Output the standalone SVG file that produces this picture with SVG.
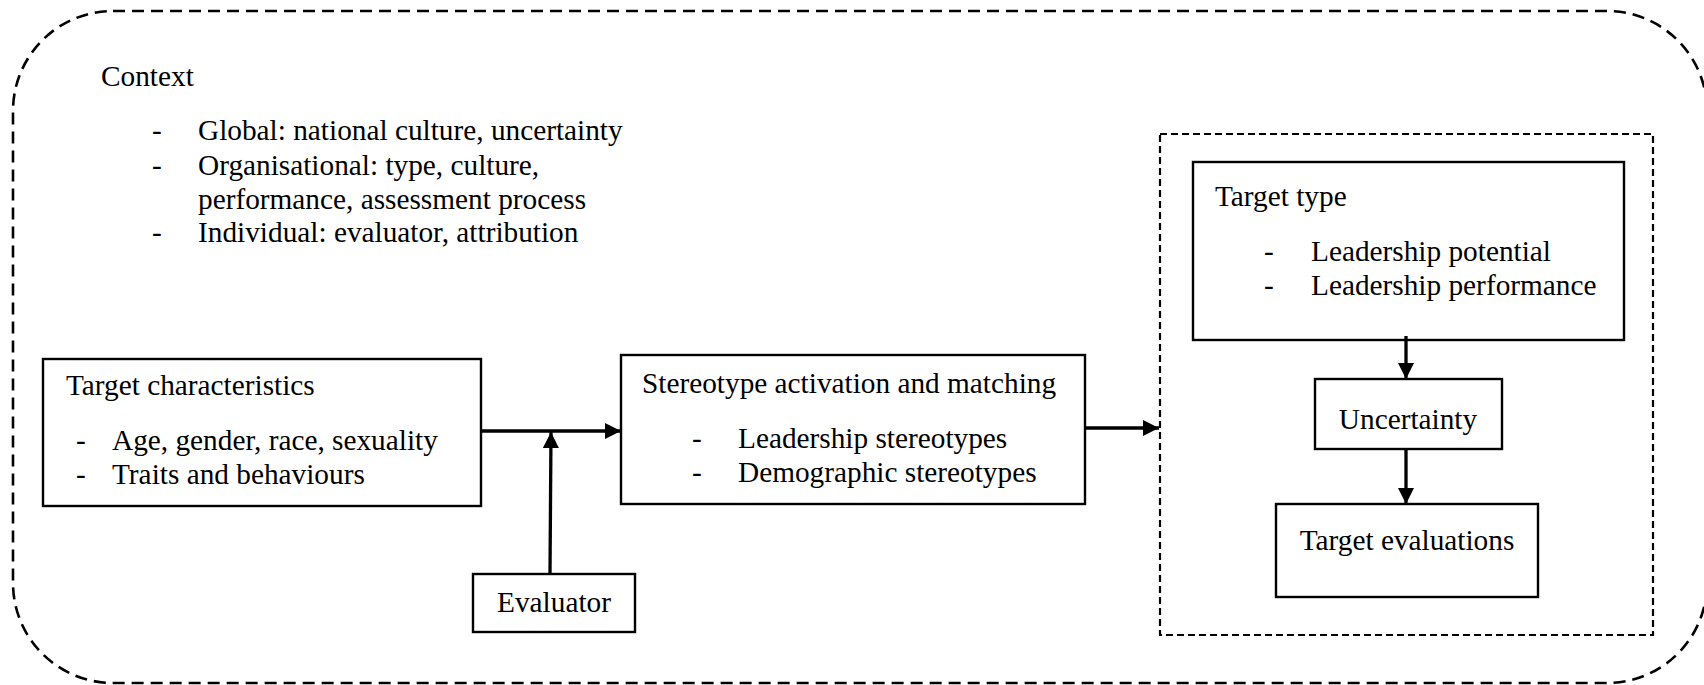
<svg xmlns="http://www.w3.org/2000/svg" width="1704" height="685" viewBox="0 0 1704 685" font-family="'Liberation Serif', 'Times New Roman', serif">
<style>
text{font-family:"Liberation Serif","Times New Roman",serif;font-size:29.3px;fill:#000}
.box{fill:#fff;stroke:#000;stroke-width:2.4}
.outer{fill:none;stroke:#000;stroke-width:2.6;stroke-dasharray:12 7}
.inner{fill:none;stroke:#000;stroke-width:2.2;stroke-dasharray:7 4}
.arr{stroke:#000;stroke-width:3.3;fill:none;marker-end:url(#ah)}
.mid{text-anchor:middle}
</style>
<defs>
<marker id="ah" markerUnits="userSpaceOnUse" markerWidth="18" markerHeight="18" viewBox="0 0 18 18" refX="16" refY="9" orient="auto">
<path d="M0,1 L16,9 L0,17 Z" fill="#000"/>
</marker>
</defs>
<g id="context">
<rect class="outer" x="13" y="11" width="1694" height="672" rx="100" ry="100"/>
<text x="101" y="86">Context</text>
<text x="152" y="140">-</text><text x="198" y="140">Global: national culture, uncertainty</text>
<text x="152" y="175">-</text><text x="198" y="175">Organisational: type, culture,</text>
<text x="198" y="209">performance, assessment process</text>
<text x="152" y="242">-</text><text x="198" y="242">Individual: evaluator, attribution</text>
</g>
<g id="outcome-group">
<rect class="inner" x="1160" y="134" width="493" height="501"/>
</g>
<g id="target-characteristics">
<rect class="box" x="43" y="359" width="438" height="147"/>
<text x="66" y="395">Target characteristics</text>
<text x="76" y="450">-</text><text x="112" y="450">Age, gender, race, sexuality</text>
<text x="76" y="484">-</text><text x="112" y="484">Traits and behaviours</text>
</g>
<g id="evaluator">
<rect class="box" x="473" y="574" width="162" height="58"/>
<text class="mid" x="554" y="612">Evaluator</text>
</g>
<g id="stereotype">
<rect class="box" x="621" y="355" width="464" height="149"/>
<text x="642" y="393">Stereotype activation and matching</text>
<text x="692" y="448">-</text><text x="738" y="448">Leadership stereotypes</text>
<text x="692" y="482">-</text><text x="738" y="482">Demographic stereotypes</text>
</g>
<g id="target-type">
<rect class="box" x="1193" y="162" width="431" height="178"/>
<text x="1215" y="206">Target type</text>
<text x="1264" y="261">-</text><text x="1311" y="261">Leadership potential</text>
<text x="1264" y="295">-</text><text x="1311" y="295">Leadership performance</text>
</g>
<g id="uncertainty">
<rect class="box" x="1315" y="379" width="187" height="70"/>
<text class="mid" x="1408" y="429">Uncertainty</text>
</g>
<g id="target-evaluations">
<rect class="box" x="1276" y="504" width="262" height="93"/>
<text class="mid" x="1407" y="550">Target evaluations</text>
</g>
<g id="connectors">
<line class="arr" x1="481" y1="431" x2="621" y2="431"/>
<line class="arr" x1="550" y1="574" x2="551" y2="432"/>
<line class="arr" x1="1085" y1="428" x2="1159" y2="428"/>
<line class="arr" x1="1406" y1="336" x2="1406" y2="379"/>
<line class="arr" x1="1406" y1="449" x2="1406" y2="504"/>
</g>
</svg>
